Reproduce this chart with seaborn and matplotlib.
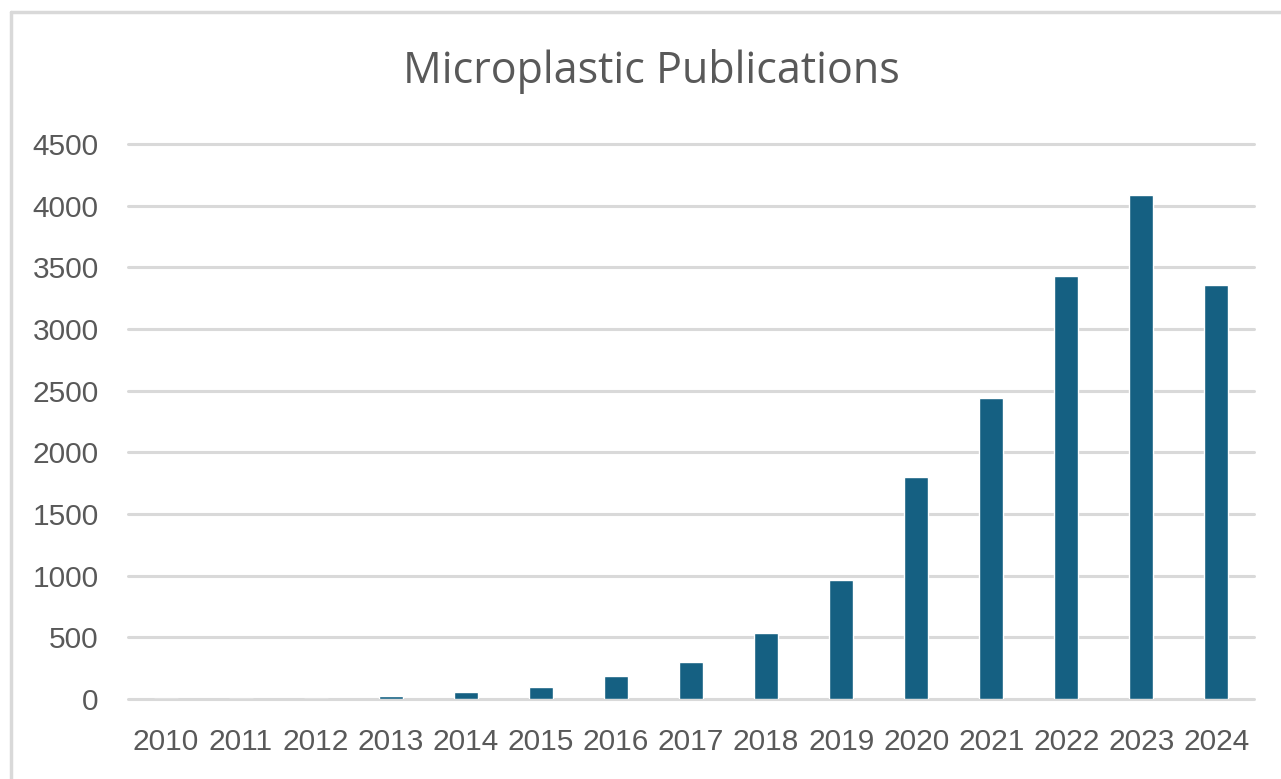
import matplotlib
matplotlib.use("Agg")
import matplotlib.pyplot as plt
import seaborn as sns
import pandas as pd

# Publication counts per year
years = ["2010", "2011", "2012", "2013", "2014", "2015", "2016", "2017",
         "2018", "2019", "2020", "2021", "2022", "2023", "2024"]
publications = [0, 0, 0, 25, 55, 95, 190, 300, 535, 965, 1800, 2440, 3430, 4090, 3360]
y_ticks = [0, 500, 1000, 1500, 2000, 2500, 3000, 3500, 4000, 4500]
title = "Microplastic Publications"

BAR = "#156082"
GRID = "#D9D9D9"
TEXT = "#595959"

sns.set_theme(style="white")
plt.rcParams["font.family"] = ["Liberation Sans", "DejaVu Sans"]

df = pd.DataFrame({"year": years, "count": publications})

W, H = 1281, 779
fig = plt.figure(figsize=(W / 100, H / 100), dpi=100)
ax = fig.add_axes([128 / W, 1 - 699 / H, (1254 - 128) / W, (699 - 144) / H])

sns.barplot(data=df, x="year", y="count", color=BAR, width=0.32,
            saturation=1, ax=ax, zorder=3)

ax.set_ylim(0, 4500)
ax.set_xlim(-0.5, len(years) - 0.5)
ax.set_yticks(y_ticks)
ax.set_yticklabels([str(v) for v in y_ticks])
for v in y_ticks:
    ax.axhline(v, color=GRID, lw=2.2, zorder=1, clip_on=False)

for s in ax.spines.values():
    s.set_visible(False)
ax.tick_params(axis="both", length=0, colors=TEXT, labelsize=21.5)
ax.tick_params(axis="y", pad=21)
ax.tick_params(axis="x", pad=21)
ax.set_xlabel("")
ax.set_ylabel("")

fig.text(651 / W, 1 - 71 / H, title, ha="center", va="center",
         fontsize=31, color=TEXT, family=["Open Sans", "DejaVu Sans"])

# Chart-area frame: top and left edges
fig.add_artist(plt.Line2D([10.5 / W, 1.0], [1 - 12 / H, 1 - 12 / H],
                          color=GRID, lw=2.5, transform=fig.transFigure))
fig.add_artist(plt.Line2D([10.5 / W, 10.5 / W], [0.0, 1 - 12 / H],
                          color=GRID, lw=2.5, transform=fig.transFigure))

fig.savefig("out.png", dpi=100, facecolor="white")
